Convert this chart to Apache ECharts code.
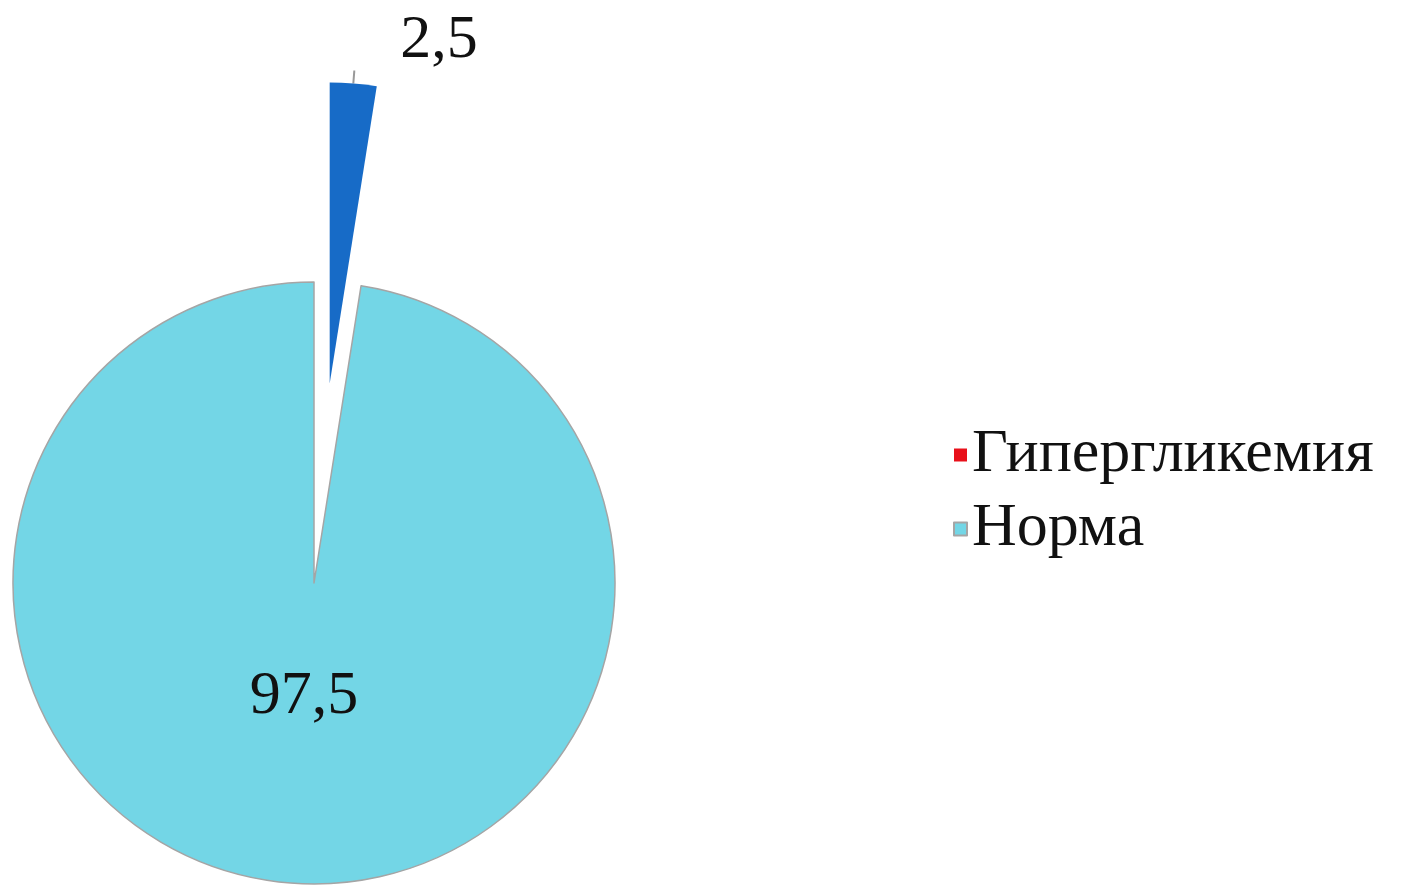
<!DOCTYPE html>
<html>
<head>
<meta charset="utf-8">
<script src="https://cdn.jsdelivr.net/npm/echarts@6/dist/echarts.min.js"></script>
<style>
html,body{margin:0;padding:0;background:#fff;}
#main{width:1416px;height:888px;}
</style>
</head>
<body>
<div id="main"></div>
<script>
// данные диаграммы
var categories = ['Гипергликемия', 'Норма'];
var values = [2.5, 97.5];
var labels = ['2,5', '97,5'];
var sliceColors = ['#176bc7', '#73d6e6'];
var legendColors = ['#e8101a', '#73d6e6'];

var myChart = echarts.init(document.getElementById('main'));

var serifFont = '"Liberation Serif", "Times New Roman", serif';

var pieData = categories.map(function (name, i) {
	var item = {
		name: name,
		value: values[i],
		itemStyle: { color: sliceColors[i] }
	};
	if (i === 0) {
		item.selected = true; // выдвинутый сектор
		item.itemStyle.borderWidth = 0;
		item.label = {
			position: 'outside',
			distanceToLabelLine: 0,
			padding: [0, 0, 0, 45],
			rich: { gap: { lineHeight: 62 } }
		};
		item.labelLine = { show: true, length: 12, length2: 1, lineStyle: { color: '#999', width: 2 } };
	} else {
		item.itemStyle.borderColor = '#a5a5a5';
		item.itemStyle.borderWidth = 1.5;
		item.label = {
			position: 'inside',
			padding: [0, 0, 0, 4],
			rich: { gap: { lineHeight: 78 } }
		};
		item.labelLine = { show: false };
	}
	return item;
});

var option = {
	animation: false,
	legend: {
		orient: 'vertical',
		left: 948,
		top: 413,
		itemWidth: 13,
		itemHeight: 13,
		itemGap: 0,
		selectedMode: false,
		icon: 'rect',
		textStyle: {
			fontFamily: serifFont,
			fontSize: 62,
			color: '#111',
			lineHeight: 74
		},
		data: categories.map(function (name, i) {
			return { name: name, itemStyle: { color: legendColors[i] } };
		})
	},
	series: [{
		type: 'pie',
		center: [314, 583],
		radius: 301,
		startAngle: 90,
		clockwise: true,
		selectedMode: 'single',
		selectedOffset: 200,
		avoidLabelOverlap: false,
		emphasis: { disabled: true },
		label: {
			show: true,
			fontFamily: serifFont,
			fontSize: 62,
			lineHeight: 70,
			color: '#111',
			// пустая строка снизу поднимает текст над точкой привязки
			formatter: function (p) {
				return labels[p.dataIndex] + '\n{gap| }';
			}
		},
		data: pieData
	}]
};
myChart.setOption(option);
</script>
</body>
</html>
